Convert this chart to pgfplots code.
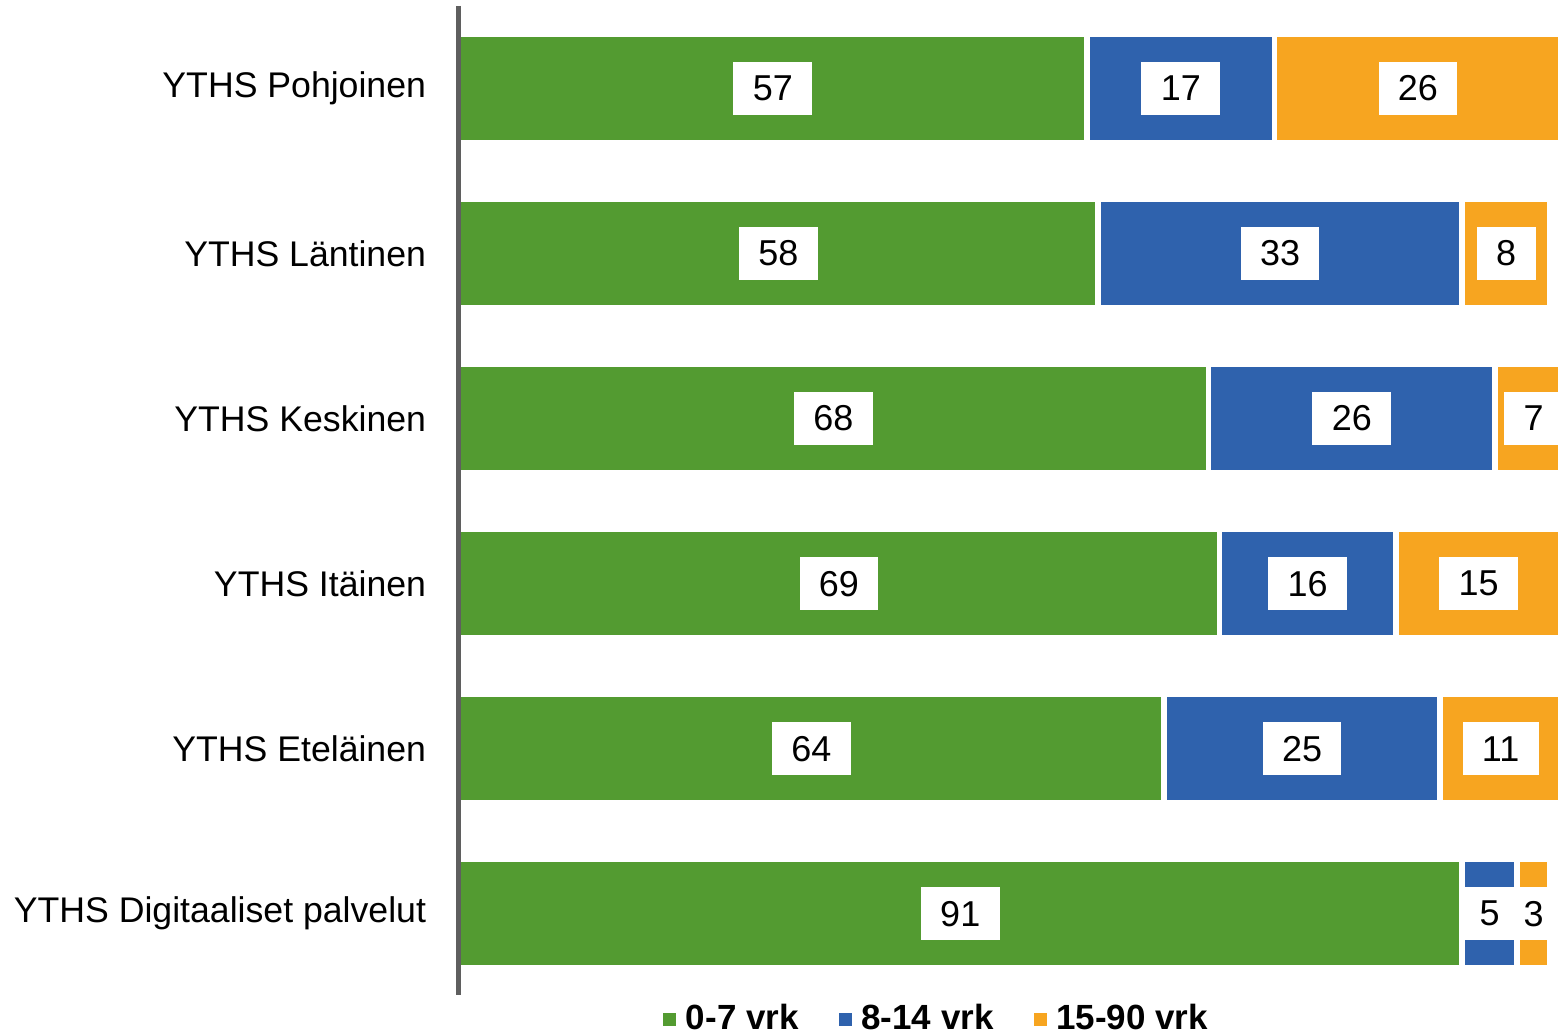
\documentclass[border=0pt]{standalone}
\usepackage{pgfplots}
\pgfplotsset{compat=1.18}
\usepackage{pgfplotstable}
\usepackage{fontspec}
\setmainfont{Liberation Sans}
\definecolor{cA}{HTML}{539B31}
\definecolor{cB}{HTML}{2F62AD}
\definecolor{cC}{HTML}{F7A520}
\definecolor{axgray}{HTML}{5F5F5F}

\pgfplotstableread{
idx a b c
0 57 17 26
1 58 33 8
2 68 26 7
3 69 16 15
4 64 25 11
5 91 5 3
}\data

\begin{document}
\begin{tikzpicture}
\begin{axis}[
  scale only axis, width=330pt, height=296.7pt,
  xmin=0, xmax=99.7, ymin=-0.5, ymax=5.49, y dir=reverse,
  axis on top,
  axis x line=none, axis y line*=left,
  y axis line style={draw=axgray, line width=1.5pt},
  ytick={0,...,5},
  yticklabels={YTHS Pohjoinen, YTHS Läntinen, YTHS Keskinen, YTHS Itäinen, YTHS Eteläinen, YTHS Digitaaliset palvelut},
  major tick length=0pt,
  ytick style={draw=none},
  yticklabel style={font=\fontsize{10.7}{13}\selectfont, xshift=-6.2pt},
  clip=true,
  legend style={at={(0.437,-0.025)}, anchor=center, draw=none, fill=none,
    legend columns=3, font=\bfseries\fontsize{10.5}{12}\selectfont,
    /tikz/every even column/.append style={column sep=10pt}},
  labstyle/.style={draw=none, mark=none, point meta=explicit symbolic,
    nodes near coords={\pgfplotspointmeta},
    every node near coord/.append style={anchor=center, fill=white,
      font=\fontsize{10.8}{13}\selectfont, inner xsep=5.8pt, inner ysep=0pt,
      minimum height=16pt}},
  barstyle/.style={xbar, bar shift=0pt, bar width=32.6pt, draw=white, line width=1.7pt, forget plot},
]
\addlegendimage{legend image code/.code={\fill[cA] (0pt,-1.75pt) rectangle (3.5pt,1.75pt); \path (4.4pt,0pt);}}
\addlegendentry{0-7 vrk}
\addlegendimage{legend image code/.code={\fill[cB] (0pt,-1.75pt) rectangle (3.5pt,1.75pt); \path (4.4pt,0pt);}}
\addlegendentry{8-14 vrk}
\addlegendimage{legend image code/.code={\fill[cC] (0pt,-1.75pt) rectangle (3.5pt,1.75pt); \path (4.4pt,0pt);}}
\addlegendentry{15-90 vrk}

\addplot[barstyle, fill=cC] table[x expr=\thisrow{a}+\thisrow{b}+\thisrow{c}, y=idx]{\data};
\addplot[barstyle, fill=cB] table[x expr=\thisrow{a}+\thisrow{b}, y=idx]{\data};
\addplot[barstyle, fill=cA] table[x=a, y=idx]{\data};

\addplot[labstyle, forget plot] table[x expr=\thisrow{a}/2, y=idx, meta=a]{\data};
\addplot[labstyle, forget plot] table[x expr=\thisrow{a}+\thisrow{b}/2, y=idx, meta=b]{\data};
\addplot[labstyle, forget plot] table[x expr=\thisrow{a}+\thisrow{b}+\thisrow{c}/2, y=idx, meta=c]{\data};
\end{axis}
\pgfresetboundingbox
\path ([shift={(-137.6pt,-11.7pt)}]current axis.south west) rectangle ([shift={(0pt,1.8pt)}]current axis.north east);
\end{tikzpicture}
\end{document}
